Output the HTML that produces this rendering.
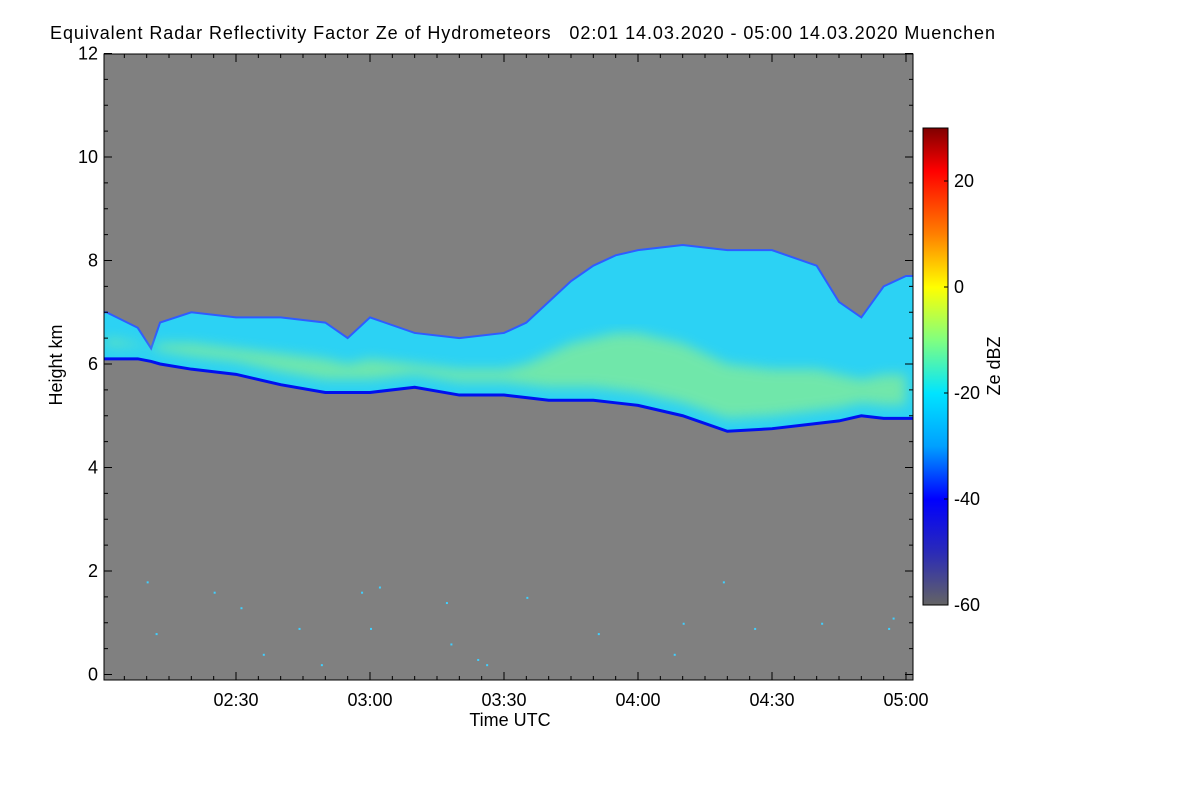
<!DOCTYPE html>
<html><head><meta charset="utf-8"><style>
body{margin:0;background:#fff;}
svg{display:block;font-family:"Liberation Sans",Arial,sans-serif;}
</style></head><body>
<svg id="chart" width="1200" height="800" xmlns="http://www.w3.org/2000/svg">
<defs>
<linearGradient id="jet" x1="0" y1="1" x2="0" y2="0">
<stop offset="0" stop-color="#646464"/>
<stop offset="0.111" stop-color="#2a2ab8"/>
<stop offset="0.222" stop-color="#0000ff"/>
<stop offset="0.333" stop-color="#00a0ff"/>
<stop offset="0.444" stop-color="#00e4ff"/>
<stop offset="0.555" stop-color="#80ff80"/>
<stop offset="0.666" stop-color="#ffff00"/>
<stop offset="0.777" stop-color="#ff8000"/>
<stop offset="0.91" stop-color="#ff0000"/>
<stop offset="1" stop-color="#800000"/>
</linearGradient>
<filter id="blur"><feGaussianBlur stdDeviation="6"/></filter>
<clipPath id="plotclip"><rect x="104" y="54" width="809" height="626"/></clipPath>
</defs>
<text x="50" y="39" font-size="18" fill="#000" textLength="945" lengthAdjust="spacing" style="white-space:pre">Equivalent Radar Reflectivity Factor Ze of Hydrometeors   02:01 14.03.2020 - 05:00 14.03.2020 Muenchen</text>
<rect x="104" y="54" width="809" height="626" fill="#808080"/>
<g id="cloud" clip-path="url(#plotclip)"></g>
<g id="dots" clip-path="url(#plotclip)"></g>
<rect x="104" y="54" width="809" height="626" fill="none" stroke="#000" stroke-width="1"/>
<g id="axes"></g>
<text x="510" y="726" font-size="18" text-anchor="middle">Time UTC</text>
<text transform="translate(62,365) rotate(-90)" font-size="18" text-anchor="middle">Height km</text>
<rect x="923" y="128" width="25" height="477" fill="url(#jet)" stroke="#000" stroke-width="1"/>
<g id="cbaxis"></g>
<text transform="translate(1000,366) rotate(-90)" font-size="18" text-anchor="middle">Ze dBZ</text>
</svg>
<script>
const NS="http://www.w3.org/2000/svg";
// data
const cloudTimes=[1,8,11,13,20,30,40,50,55,60,70,80,90,95,100,105,110,115,120,130,140,150,160,165,170,175,180];
const cloudTop=[7.0,6.7,6.3,6.8,7.0,6.9,6.9,6.8,6.5,6.9,6.6,6.5,6.6,6.8,7.2,7.6,7.9,8.1,8.2,8.3,8.2,8.2,7.9,7.2,6.9,7.5,7.7];
const cloudBase=[6.1,6.1,6.05,6.0,5.9,5.8,5.6,5.45,5.45,5.45,5.55,5.4,5.4,5.35,5.3,5.3,5.3,5.25,5.2,5.0,4.7,4.75,4.85,4.9,5.0,4.95,4.95];
const coreLevel=[6.5,6.4,6.3,6.4,6.4,6.3,6.2,6.1,6.0,6.1,6.0,5.9,5.9,6.0,6.2,6.4,6.5,6.6,6.6,6.4,6.0,5.9,5.9,5.8,5.7,5.8,5.8];
const dotTimes=[10,12,25,31,36,44,49,58,60,62,77,78,84,86,95,111,128,130,139,146,161,176,177];
const dotHeights=[1.8,0.8,1.6,1.3,0.4,0.9,0.2,1.6,0.9,1.7,1.4,0.6,0.3,0.2,1.5,0.8,0.4,1.0,1.8,0.9,1.0,0.9,1.1];
const xTickLabels=["02:30","03:00","03:30","04:00","04:30","05:00"];
const xTickMins=[30,60,90,120,150,180];
const yTicks=[0,2,4,6,8,10,12];
const cbTicks=[20,0,-20,-40,-60];
// scales
const x=t=>102+t*(804/180);
const y=h=>674.5-h*51.75;
const cy=v=>605-(v+60)*(477/90);
function el(tag,attrs,parent){const e=document.createElementNS(NS,tag);for(const k in attrs)e.setAttribute(k,attrs[k]);parent.appendChild(e);return e;}
const cloud=document.getElementById('cloud');
let topPts=cloudTimes.map((t,i)=>x(t)+','+y(cloudTop[i]));
let basePts=cloudTimes.map((t,i)=>x(t)+','+y(cloudBase[i])).reverse();
topPts.unshift(x(-1)+','+y(cloudTop[0]));basePts.push(x(-1)+','+y(cloudBase[0]));
topPts.push(x(182)+','+y(cloudTop[cloudTop.length-1]));basePts.unshift(x(182)+','+y(cloudBase[cloudBase.length-1]));
const main=el('polygon',{points:topPts.concat(basePts).join(' '),fill:'#2cd2f4',stroke:'#2f5cff','stroke-width':'2'},cloud);


const coreTop=cloudTimes.map((t,i)=>x(t)+','+y(coreLevel[i]));
const coreBot=cloudTimes.map((t,i)=>x(t)+','+y(cloudBase[i]+0.25)).reverse();
const core=el('polygon',{points:coreTop.concat(coreBot).join(' '),fill:'#8ef08c',opacity:'0.7',filter:'url(#blur)'},cloud);


const bl=el('polyline',{points:basePts.join(' '),fill:'none',stroke:'#0010ee','stroke-width':'3'},cloud);


const dots=document.getElementById('dots');
dotTimes.forEach((t,i)=>{const d=el('rect',{x:x(t),y:y(dotHeights[i]),width:2,height:2,fill:'#40d0ff'},dots);

});
const ax=document.getElementById('axes');
for(let m=5;m<=180;m+=5){const len=(m%30===0)?8:4;const xx=x(m);
el('line',{x1:xx,y1:680,x2:xx,y2:680-len,stroke:'#000'},ax);
el('line',{x1:xx,y1:54,x2:xx,y2:54+len,stroke:'#000'},ax);}
xTickMins.forEach((m,i)=>{const t=el('text',{x:x(m),y:706,'font-size':'18','text-anchor':'middle'},ax);t.textContent=xTickLabels[i];

});
for(let h=0;h<=12;h+=0.5){const len=(h%2===0)?8:4;const yy=y(h);
el('line',{x1:104,y1:yy,x2:104+len,y2:yy,stroke:'#000'},ax);
el('line',{x1:913,y1:yy,x2:913-len,y2:yy,stroke:'#000'},ax);}
yTicks.forEach(h=>{const t=el('text',{x:98,y:y(h)+6,'font-size':'18','text-anchor':'end'},ax);t.textContent=h;

});
const cb=document.getElementById('cbaxis');
cbTicks.forEach(v=>{el('line',{x1:944,y1:cy(v),x2:948,y2:cy(v),stroke:'#000'},cb);
const t=el('text',{x:954,y:cy(v)+6,'font-size':'18'},cb);t.textContent=v;

});
</script>
</body></html>
